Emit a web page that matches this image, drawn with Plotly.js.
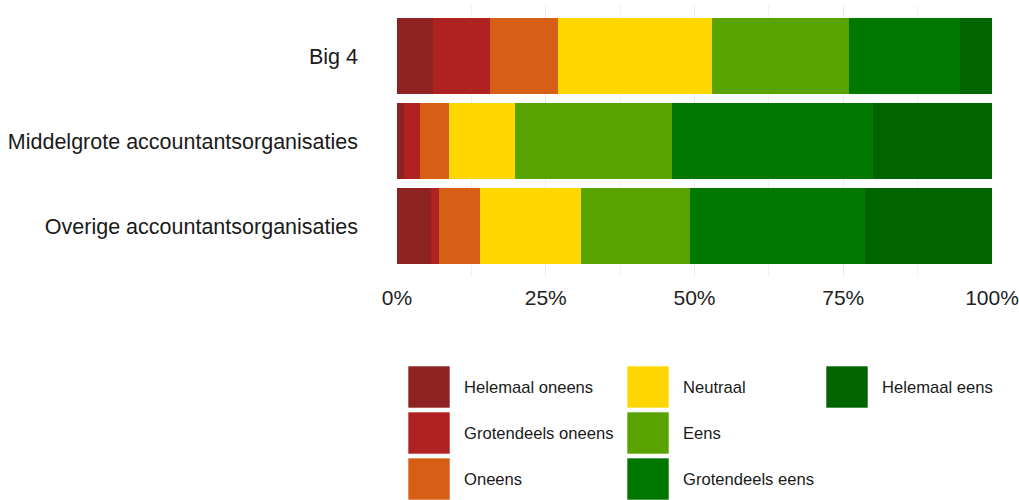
<!DOCTYPE html>
<html>
<head>
<meta charset="utf-8">
<script src="https://cdn.plot.ly/plotly-3.0.1.min.js"></script>
<style>html,body{margin:0;padding:0;background:#fff;}#chart{width:1019px;height:500px;}</style>
</head>
<body>
<div id="chart"></div>
<script>
// ---- data ----
const categories = ["Big 4", "Middelgrote accountantsorganisaties", "Overige accountantsorganisaties"];
const responses = ["Helemaal oneens", "Grotendeels oneens", "Oneens", "Neutraal", "Eens", "Grotendeels eens", "Helemaal eens"];
const helemaalOneens   = [6.1, 1.2, 5.7];
const grotendeelsOneens = [9.6, 2.6, 1.3];
const oneens           = [11.4, 4.9, 7.0];
const neutraal         = [25.9, 11.2, 16.9];
const eens             = [22.9, 26.3, 18.3];
const grotendeelsEens  = [18.7, 33.8, 29.5];
const helemaalEens     = [5.4, 20.0, 21.3];
const colors = ["#8E2222", "#B02222", "#D65F15", "#FFD700", "#58A300", "#007800", "#006400"];
const xTickVals = [0, 0.25, 0.5, 0.75, 1];
const xTickText = ["0%", "25%", "50%", "75%", "100%"];

const seriesValues = [helemaalOneens, grotendeelsOneens, oneens, neutraal, eens, grotendeelsEens, helemaalEens];

const traces = responses.map((name, i) => {
  const vals = seriesValues[i];
  return {
    type: "bar",
    orientation: "h",
    name: name,
    y: categories,
    x: vals.map((v, j) => v / seriesValues.reduce((s, a) => s + a[j], 0)),
    marker: { color: colors[i], line: { width: 0 } },
    showlegend: false,
    hovertemplate: name + ": %{x:.1%}<extra></extra>"
  };
});

// ---- layout geometry (pixels) ----
const W = 1019, H = 500;
const mL = 397, mR = 27, mT = 5, mB = 223;
const pw = W - mL - mR, ph = H - mT - mB;
const px = x => (x - mL) / pw;
const py = y => (H - mB - y) / ph;

// manual legend: 3 columns, filled column-wise
const colSwatchX = [408, 627, 826];
const rowTopY = [366, 412, 458];
const sw = 42;
const shapes = [];
const annotations = [];
responses.forEach((name, i) => {
  const c = Math.floor(i / 3), r = i % 3;
  const x0 = colSwatchX[c], y0 = rowTopY[r];
  shapes.push({
    type: "rect", xref: "paper", yref: "paper",
    x0: px(x0), x1: px(x0 + sw), y0: py(y0 + sw), y1: py(y0),
    fillcolor: colors[i], line: { width: 1, color: "rgba(255,255,255,0.6)" }, layer: "above"
  });
  annotations.push({
    xref: "paper", yref: "paper", x: px(x0 + sw + 12), y: py(y0 + sw / 2),
    xanchor: "left", yanchor: "middle", showarrow: false, text: name,
    font: { family: "Liberation Sans, Arial, sans-serif", size: 16.6, color: "#1a1a1a" }
  });
});

const layout = {
  width: W, height: H,
  margin: { l: mL, r: mR, t: mT, b: mB, pad: 0 },
  paper_bgcolor: "#fff", plot_bgcolor: "#fff",
  barmode: "stack",
  bargap: 0.1,
  showlegend: false,
  font: { family: "Liberation Sans, Arial, sans-serif", color: "#1a1a1a" },
  xaxis: {
    range: [0, 1], fixedrange: true,
    tickvals: xTickVals, ticktext: xTickText,
    showgrid: true, gridcolor: "#EBEBEB", gridwidth: 1.3,
    minor: { dtick: 0.125, showgrid: true, gridcolor: "#EFEFEF", gridwidth: 0.8 },
    zeroline: false, showline: false,
    ticks: "outside", ticklen: 2, tickcolor: "rgba(0,0,0,0)",
    tickfont: { size: 21, color: "#222" }
  },
  yaxis: {
    type: "category", categoryarray: categories, categoryorder: "array",
    range: [2.6, -0.6], fixedrange: true,
    showgrid: false, zeroline: false, showline: false,
    ticks: "", ticklabelstandoff: 38,
    tickfont: { size: 21.5, color: "#1a1a1a" }
  },
  shapes: shapes,
  annotations: annotations
};

Plotly.newPlot("chart", traces, layout, { displayModeBar: false, staticPlot: true });
</script>
</body>
</html>
